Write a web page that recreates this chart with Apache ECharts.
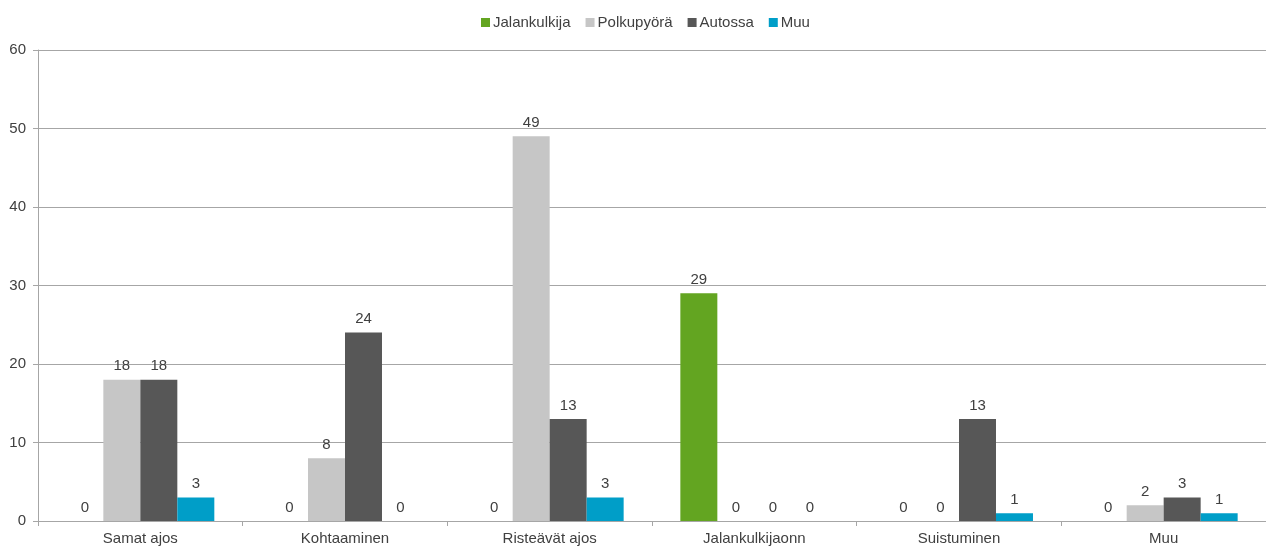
<!DOCTYPE html>
<html><head><meta charset="utf-8">
<script src="https://cdn.jsdelivr.net/npm/echarts@6/dist/echarts.min.js"></script>
<style>html,body{margin:0;padding:0;background:#fff}#c{width:1266px;height:548px}</style>
</head><body><div id="c"></div>
<script>
const categories = ['Samat ajos','Kohtaaminen','Risteävät ajos','Jalankulkijaonn','Suistuminen','Muu'];
const jalankulkija = [0,0,0,29,0,0];
const polkupyora = [18,8,49,0,0,2];
const autossa = [18,24,13,0,13,3];
const muu = [3,0,3,0,1,1];
const seriesNames = ['Jalankulkija','Polkupyörä','Autossa','Muu'];
const colors = ['#63a521','#c6c6c6','#575757','#009ec8'];
const txt = '#404040';
const font = 'Liberation Sans, Arial, sans-serif';
const fs = 15;
const chart = echarts.init(document.getElementById('c'));
const mk = (name, data, color) => ({
  name, type:'bar', data, barGap:'0%', barCategoryGap:'27.7%',
  itemStyle:{color},
  label:{show:true, position:'top', color:txt, fontFamily:font, fontSize:fs, distance:6}
});
chart.setOption({
  animation:false,
  textStyle:{fontFamily:font},
  legend:{top:10, left:476, itemWidth:9, itemHeight:9, itemGap:15, icon:'rect',
    textStyle:{color:txt, fontSize:fs, fontFamily:font, padding:[0,0,0,-2]}},
  grid:{left:38, right:0, top:50, bottom:27, containLabel:false},
  xAxis:{type:'category', data:categories,
    axisLine:{lineStyle:{color:'#a6a6a6'}},
    axisTick:{show:true, alignWithLabel:false, length:5, lineStyle:{color:'#a6a6a6'}},
    axisLabel:{color:txt, fontSize:fs, fontFamily:font, margin:10}},
  yAxis:{type:'value', min:0, max:60, interval:10,
    axisLine:{show:true, lineStyle:{color:'#a6a6a6'}},
    axisTick:{show:true, length:5, lineStyle:{color:'#a6a6a6'}},
    splitLine:{lineStyle:{color:'#a6a6a6'}},
    axisLabel:{color:txt, fontSize:fs, fontFamily:font, margin:12}},
  series:[mk(seriesNames[0], jalankulkija, colors[0]), mk(seriesNames[1], polkupyora, colors[1]),
          mk(seriesNames[2], autossa, colors[2]), mk(seriesNames[3], muu, colors[3])]
});
</script></body></html>
